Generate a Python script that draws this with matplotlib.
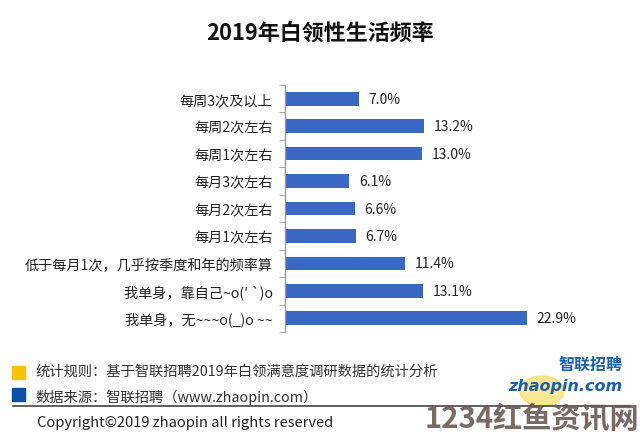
import matplotlib.pyplot as plt
from matplotlib.patches import Rectangle, Circle
from matplotlib.lines import Line2D
import numpy as np

plt.rcParams['font.family'] = ['Noto Sans CJK SC', 'DejaVu Sans']

categories = [
    "每周3次及以上",
    "每周2次左右",
    "每周1次左右",
    "每月3次左右",
    "每月2次左右",
    "每月1次左右",
    "低于每月1次，几乎按季度和年的频率算",
    "我单身，靠自己~o(′ `)o",
    "我单身，无~~~o(_)o ~~",
]
values = [7.0, 13.2, 13.0, 6.1, 6.6, 6.7, 11.4, 13.1, 22.9]
value_labels = ["7.0%", "13.2%", "13.0%", "6.1%", "6.6%", "6.7%", "11.4%", "13.1%", "22.9%"]

W, H = 640, 439
fig = plt.figure(figsize=(6.4, 4.39), dpi=100)
fig.patch.set_facecolor("white")


def fx(px):
    return px / W


def fy(py):
    return 1 - py / H


# axes placed in pixel terms
ax_left, ax_right, ax_top, ax_bottom = 285, 602, 86, 333
ax = fig.add_axes([fx(ax_left), fy(ax_bottom),
                   (ax_right - ax_left) / W, (ax_bottom - ax_top) / H])

y = np.arange(len(categories))
ax.barh(y, values, height=0.5, color="#3a68c4")
ax.set_xlim(0, 30)
ax.set_ylim(len(categories) - 0.5, -0.5)

for yi, v, lab in zip(y, values, value_labels):
    ax.text(v + 0.9, yi, lab, va="center", ha="left", fontsize=10, color="#222222")

ax.set_yticks(y)
ax.set_yticklabels(categories, fontsize=10.2, color="#222222")
ax.tick_params(axis="y", which="major", length=0, pad=9)
ax.set_yticks(np.arange(-0.5, len(categories), 1), minor=True)
ax.tick_params(axis="y", which="minor", length=4, color="#999999", direction="out")
ax.set_xticks([])
for side in ["top", "right", "bottom"]:
    ax.spines[side].set_visible(False)
ax.spines["left"].set_color("#999999")
ax.spines["left"].set_linewidth(1)

fig.text(0.5, fy(33), "2019年白领性生活频率", ha="center", va="center",
         fontsize=15.8, fontweight="bold", color="#111111")

# footer
fig.patches.append(Rectangle((fx(12), fy(380)), 13 / W, 13 / H,
                             transform=fig.transFigure, color="#f5c400"))
fig.patches.append(Rectangle((fx(12), fy(402)), 13 / W, 13 / H,
                             transform=fig.transFigure, color="#0d4ea6"))
fig.text(fx(35), fy(372), "统计规则：基于智联招聘2019年白领满意度调研数据的统计分析",
         ha="left", va="center", fontsize=10.3, color="#333333")
fig.text(fx(35), fy(397), "数据来源：智联招聘（www.zhaopin.com）",
         ha="left", va="center", fontsize=10.3, color="#333333")
fig.lines.append(Line2D([fx(13), fx(630)], [fy(407), fy(407)],
                        transform=fig.transFigure, color="#444444", lw=1.2))
fig.text(fx(37), fy(423), "Copyright©2019 zhaopin all rights reserved",
         ha="left", va="center", fontsize=10.6, color="#222222")

# logo
fig.patches.append(Circle((fx(542), fy(392)), 22 / W, transform=fig.transFigure,
                          color="#f8d84a", alpha=0.6, zorder=0))
fig.text(fx(591), fy(365), "智联招聘", ha="center", va="center",
         fontsize=11.5, fontweight="bold", style="italic", color="#1a5fb4")
fig.text(fx(565), fy(387), "zhaopin.com", ha="center", va="center",
         fontsize=11.5, fontweight="bold", style="italic", color="#1a5fb4",
         family="DejaVu Sans")

# watermark
fig.text(fx(532), fy(419), "1234红鱼资讯网", ha="center", va="center",
         fontsize=21, fontweight="bold", color="#6b5a55", alpha=0.9)

fig.savefig("out.png", dpi=100, facecolor="white")
